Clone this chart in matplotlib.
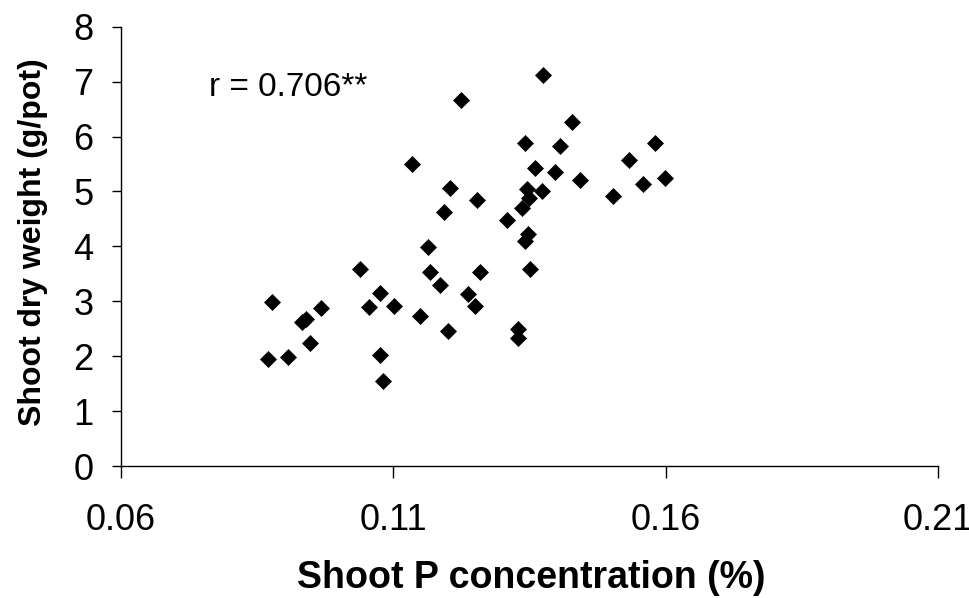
import matplotlib
matplotlib.use("Agg")
import matplotlib.pyplot as plt

# Shoot P concentration (%) vs shoot dry weight (g/pot)
p_conc = [0.0870, 0.0878, 0.0908, 0.0933, 0.0941, 0.0947, 0.0967, 0.1040,
          0.1056, 0.1077, 0.1077, 0.1081, 0.1101, 0.1135, 0.1149, 0.1165,
          0.1167, 0.1186, 0.1194, 0.1200, 0.1204, 0.1225, 0.1237, 0.1251,
          0.1254, 0.1260, 0.1310, 0.1330, 0.1330, 0.1336, 0.1342, 0.1342,
          0.1347, 0.1346, 0.1349, 0.1351, 0.1360, 0.1373, 0.1376, 0.1398,
          0.1406, 0.1428, 0.1444, 0.1504, 0.1533, 0.1559, 0.1581, 0.1599]
dry_weight = [1.94, 2.99, 1.99, 2.63, 2.67, 2.24, 2.88, 3.58,
              2.90, 3.16, 2.03, 1.54, 2.91, 5.50, 2.74, 3.99,
              3.54, 3.29, 4.62, 2.45, 5.06, 6.66, 3.13, 2.91,
              4.84, 3.54, 4.48, 2.49, 2.33, 4.70, 5.88, 4.09,
              4.22, 5.05, 4.88, 3.58, 5.43, 5.01, 7.13, 5.35,
              5.83, 6.26, 5.21, 4.92, 5.58, 5.13, 5.88, 5.25]

x_ticks = [0.06, 0.11, 0.16, 0.21]
x_labels = ["0.06", "0.11", "0.16", "0.21"]
y_ticks = list(range(0, 9))

plt.rcParams['font.family'] = ['Liberation Sans', 'DejaVu Sans']

fig = plt.figure(figsize=(9.69, 5.98), dpi=100)
ax = fig.add_axes([0.1244, 0.2207, 0.8436, 0.7346])

ax.plot(p_conc, dry_weight, linestyle='none', marker='D', markersize=8,
        color='black', markeredgewidth=0.5)

ax.set_xlim(0.06, 0.21)
ax.set_ylim(0, 8)
ax.set_xticks(x_ticks)
ax.set_xticklabels(x_labels)
ax.set_yticks(y_ticks)

for side in ['top', 'right']:
    ax.spines[side].set_visible(False)
for side in ['left', 'bottom']:
    ax.spines[side].set_linewidth(1.0)

ax.tick_params(axis='both', direction='out', width=1.0,
               labelsize=26, colors='black')
ax.tick_params(axis='x', length=8.6, pad=18)
ax.tick_params(axis='y', length=6.5, pad=13)

# axis titles placed by figure coordinates
fig.text(0.548, 1 - 578 / 598, "Shoot P concentration (%)", fontsize=27,
         fontweight='bold', ha='center', va='center')
fig.text(33 / 969, 1 - 242 / 598, "Shoot dry weight (g/pot)", fontsize=23,
         fontweight='bold', ha='center', va='center', rotation=90)

ax.text(0.0763, 6.89, "r = 0.706**", fontsize=24, va='center', ha='left')

fig.savefig("out.png", dpi=100, facecolor='white')
